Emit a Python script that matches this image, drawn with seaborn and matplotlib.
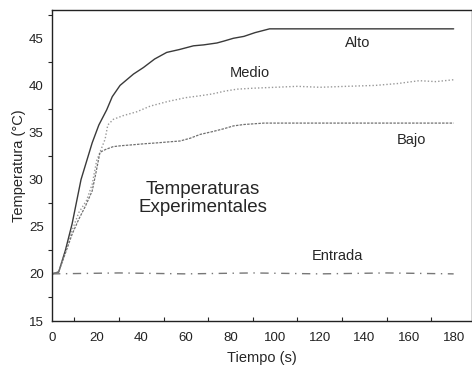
import matplotlib
matplotlib.use("Agg")
import matplotlib.pyplot as plt
import seaborn as sns
import pandas as pd
from matplotlib.ticker import MultipleLocator

sns.set_theme(style="white")
plt.rcParams['font.family'] = ['Liberation Sans', 'DejaVu Sans']

# Data
t_alto = [0, 3, 6, 9, 13, 18, 21, 24.5, 27, 30.5, 36.5, 41, 46, 51.4, 57, 63.4, 68, 73.9, 77, 81.3, 86, 91, 97.5, 120, 150, 180]
T_alto = [20, 20.2, 22.5, 25.3, 30, 33.9, 35.8, 37.4, 38.8, 40, 41.2, 41.9, 42.8, 43.5, 43.8, 44.2, 44.3, 44.5, 44.7, 45, 45.2, 45.6, 46, 46, 46, 46]

t_medio = [0, 3, 6, 9, 12, 15.5, 18, 20, 23.8, 25, 27.5, 32, 38, 44, 52, 60, 66.4, 72, 77.6, 83, 90, 100, 110, 120, 132, 145, 155, 164.6, 172, 180]
T_medio = [20, 20.2, 22.3, 24.6, 26.5, 27.8, 29.5, 32, 34.3, 35.8, 36.4, 36.8, 37.2, 37.8, 38.3, 38.7, 38.9, 39.1, 39.4, 39.6, 39.7, 39.8, 39.9, 39.8, 39.9, 40.0, 40.2, 40.5, 40.4, 40.6]

t_bajo = [0, 3, 6, 9, 12, 15, 18, 19.5, 21.5, 24, 27.4, 31, 36.3, 41, 47, 52, 57.4, 62, 66.4, 72, 77, 81.3, 86, 95, 110, 130, 150, 165, 180]
T_bajo = [20, 20.2, 22.2, 24.2, 25.8, 27.2, 28.8, 30.5, 32.9, 33.2, 33.5, 33.6, 33.7, 33.8, 33.9, 34.0, 34.1, 34.4, 34.8, 35.1, 35.4, 35.7, 35.85, 36.0, 36.0, 36.0, 36.0, 36.0, 36.0]

t_entrada = [0, 30, 60, 90, 120, 150, 180]
T_entrada = [20, 20.1, 20, 20.1, 20, 20.1, 20]

series_names = ["Alto", "Medio", "Bajo", "Entrada"]

frames = []
for name, tt, TT in zip(series_names, [t_alto, t_medio, t_bajo, t_entrada], [T_alto, T_medio, T_bajo, T_entrada]):
    frames.append(pd.DataFrame({"t": tt, "T": TT, "serie": name}))
df = pd.concat(frames, ignore_index=True)

fig = plt.figure(figsize=(4.72, 3.68), dpi=100)
ax = fig.add_axes([52/472, 1 - 321/368, 1 - 52/472 - 0.5/472, (321 - 10)/368])

styles = {
    "Alto": dict(color="#3a3a3a", linestyle="-", linewidth=1.0),
    "Medio": dict(color="#999999", linestyle=(0, (1, 1.5)), linewidth=1.0),
    "Bajo": dict(color="#707070", linestyle=(0, (2, 1)), linewidth=0.9),
    "Entrada": dict(color="#777777", linestyle=(0, (6, 4, 1, 4)), linewidth=1.0),
}
for name in series_names:
    sub = df[df["serie"] == name]
    sns.lineplot(data=sub, x="t", y="T", ax=ax, estimator=None, sort=False, **styles[name])

ax.set_xlim(0, 188)
ax.set_ylim(15, 48)
ax.xaxis.set_major_locator(MultipleLocator(20))
ax.xaxis.set_minor_locator(MultipleLocator(10))
ax.yaxis.set_major_locator(MultipleLocator(5))
ax.yaxis.set_minor_locator(MultipleLocator(2.5))
ax.tick_params(axis="both", which="major", direction="out", length=4, width=0.8, labelsize=9.5, colors="#222222", pad=2)
ax.tick_params(axis="x", which="major", pad=4)
ax.tick_params(axis="x", which="minor", direction="in", length=3, width=0.8, bottom=True)
ax.tick_params(axis="y", which="minor", direction="out", length=3, width=0.8, left=True)
for s in ["left", "bottom", "top", "right"]:
    ax.spines[s].set_color("#222222")
    ax.spines[s].set_linewidth(1.0)

ax.set_xlabel("Tiempo (s)", fontsize=10.5, labelpad=5)
ax.set_ylabel("Temperatura (°C)", fontsize=10.5, labelpad=2)

ax.text(137, 44.5, "Alto", fontsize=10.5, ha="center", va="center")
ax.text(88.5, 41.3, "Medio", fontsize=10.5, ha="center", va="center")
ax.text(161, 34.2, "Bajo", fontsize=10.5, ha="center", va="center")
ax.text(67.5, 28.0, "Temperaturas\nExperimentales", fontsize=13.5, ha="center", va="center", linespacing=1.1)
ax.text(128, 21.9, "Entrada", fontsize=10.5, ha="center", va="center")

fig.savefig("out.png", dpi=100)
